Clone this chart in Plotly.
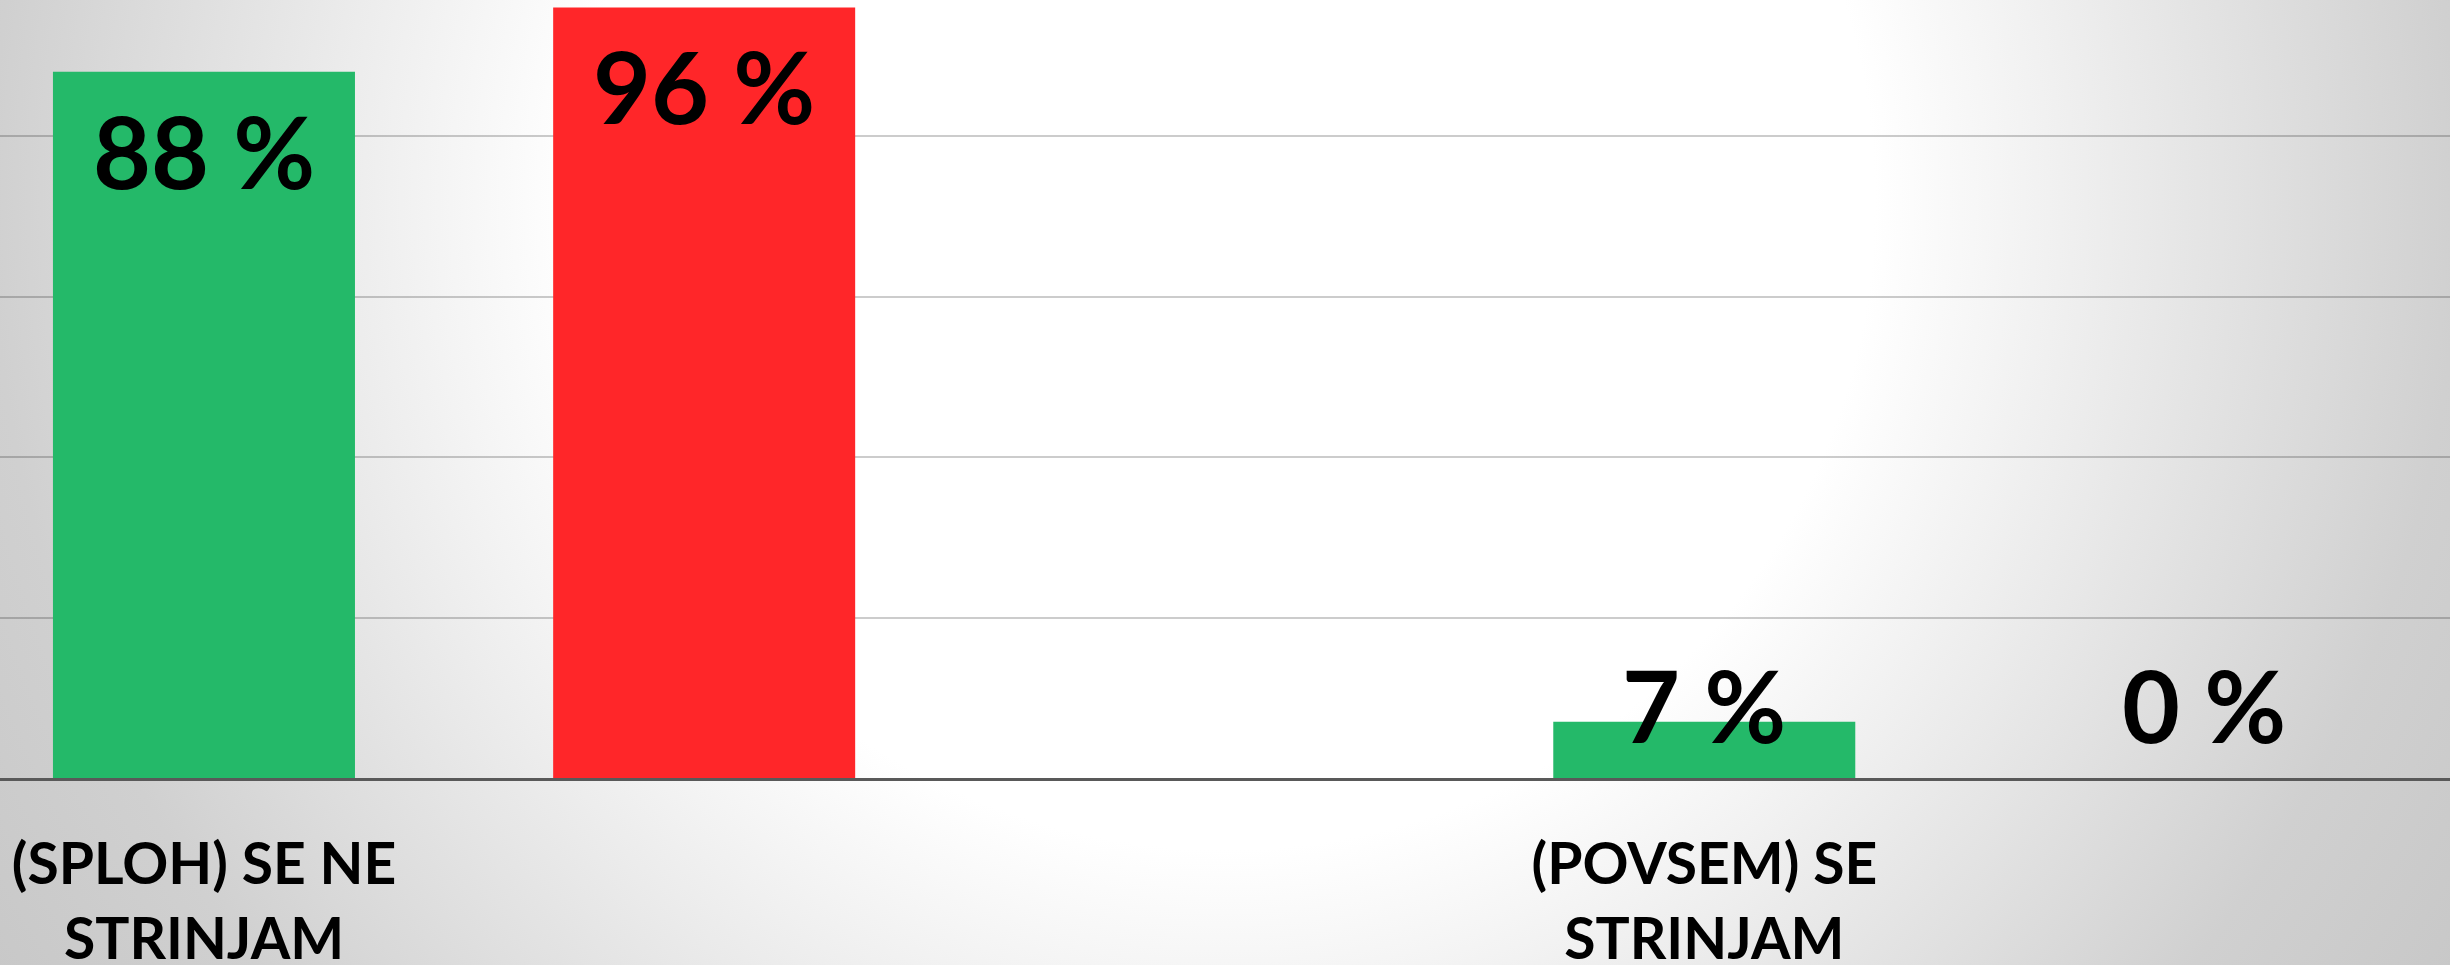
import base64
import plotly.graph_objects as go

# ---- data ----
categories = ["(SPLOH) SE NE<br>STRINJAM", "(POVSEM) SE<br>STRINJAM"]
series_names = ["Serija 1", "Serija 2"]
green_values = [88, 7]
red_values = [96, 0]

# ---- style ----
GREEN = "#24B969"
RED = "#FF2629"
FONT = "Lato"
BAR_W = 0.2013
GREEN_OFF = -0.1007
RED_OFF = 0.2327

x_idx = list(range(len(categories)))

fig = go.Figure()
fig.add_trace(go.Bar(x=x_idx, y=green_values, name=series_names[0], width=BAR_W, offset=GREEN_OFF,
                     marker=dict(color=GREEN, line=dict(width=0))))
fig.add_trace(go.Bar(x=x_idx, y=red_values, name=series_names[1], width=BAR_W, offset=RED_OFF,
                     marker=dict(color=RED, line=dict(width=0))))

# data labels
annotations = []
for vals, off in ((green_values, GREEN_OFF), (red_values, RED_OFF)):
    for i, v in zip(x_idx, vals):
        annotations.append(dict(
            x=i + off + BAR_W / 2, y=max(v - 9.7, 9.2), xref="x", yref="y",
            text=f"{v} %", showarrow=False, yanchor="middle", xanchor="center",
            font=dict(family=FONT, size=100, color="black", weight="bold")))

svg = (
    "<svg xmlns='http://www.w3.org/2000/svg' width='2450' height='965' viewBox='0 0 2450 965' "
    "preserveAspectRatio='none'><defs><radialGradient id='g' gradientUnits='userSpaceOnUse' "
    "cx='0' cy='0' r='1' gradientTransform='translate(1225 200) scale(1450 1450)'>"
    "<stop offset='0' stop-color='#ffffff'/><stop offset='0.448' stop-color='#ffffff'/>"
    "<stop offset='0.851' stop-color='#d0d0d0'/>"
    "<stop offset='1' stop-color='#c8c8c8'/></radialGradient></defs>"
    "<rect x='0' y='0' width='2450' height='965' fill='url(#g)'/></svg>"
)
src = "data:image/svg+xml;base64," + base64.b64encode(svg.encode()).decode()

fig.update_layout(
    width=2450, height=965,
    margin=dict(l=0, r=0, t=0, b=187, pad=0),
    barmode="overlay",
    showlegend=False,
    paper_bgcolor="rgba(0,0,0,0)",
    plot_bgcolor="rgba(0,0,0,0)",
    annotations=annotations,
    images=[dict(source=src, xref="paper", yref="paper", x=0, y=1, sizex=1, sizey=965 / 778,
                 sizing="stretch", layer="below", xanchor="left", yanchor="top")],
    xaxis=dict(range=[-0.136, 1.497], tickvals=x_idx, ticktext=categories, showgrid=False,
               zeroline=False, showline=True, linecolor="#595959", linewidth=3,
               ticks="", ticklabelstandoff=35, automargin=False,
               tickfont=dict(family=FONT, size=57, color="black", weight="bold")),
    yaxis=dict(range=[0, 96.95], dtick=20, showticklabels=False, showgrid=True,
               gridcolor="rgba(0,0,0,0.2)", gridwidth=2, zeroline=False, automargin=False),
)

fig.write_html("out.html", config={"displayModeBar": False},
               post_script="document.body.style.margin='0';document.body.style.overflow='hidden';")
